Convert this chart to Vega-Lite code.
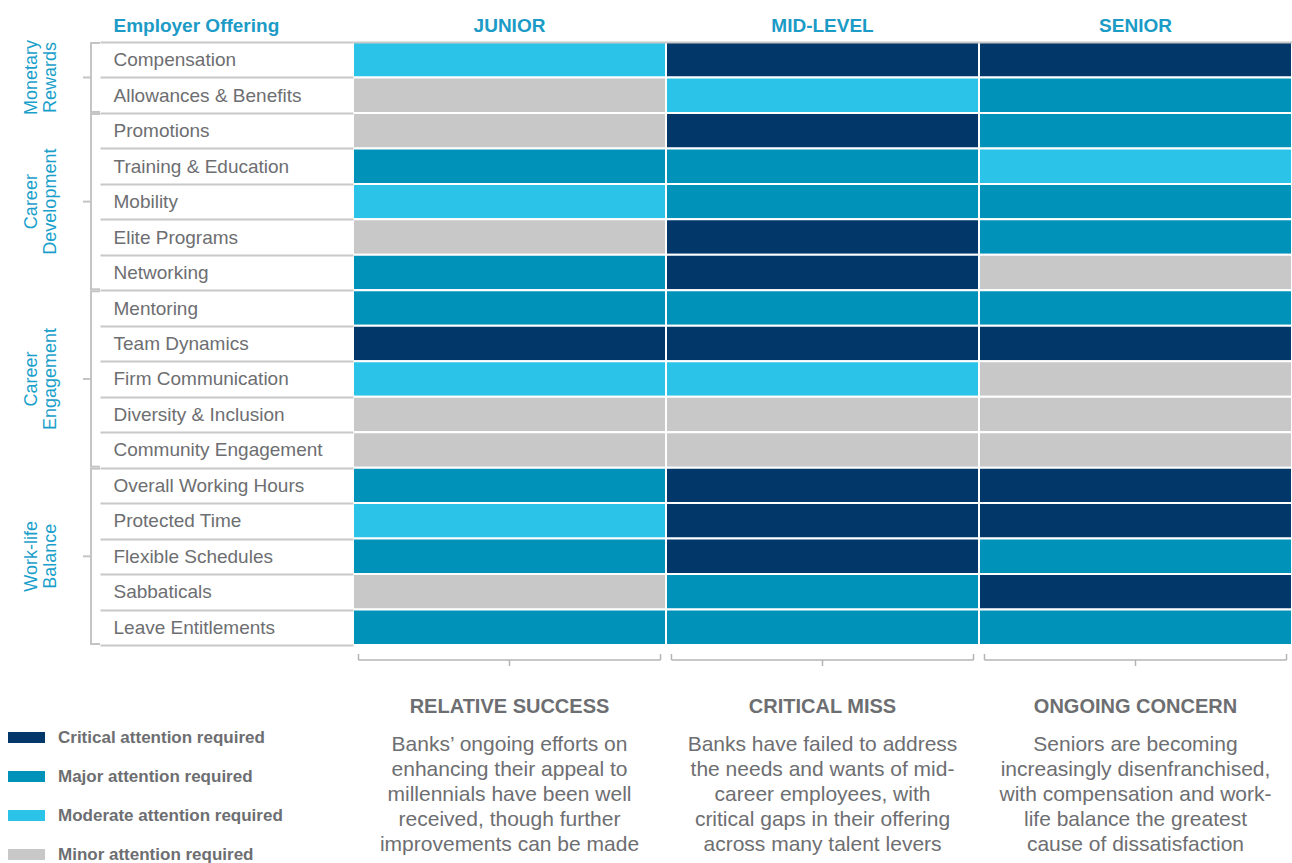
{
  "$schema": "https://vega.github.io/schema/vega-lite/v6.json",
  "padding": {"top": 16, "left": 0, "right": 0, "bottom": 0},
  "config": {"font": "Liberation Sans", "view": {"stroke": null}},
  "bounds": "flush",
  "spacing": 253,
  "datasets": {
    "cells": [
      {"offering": "Compensation", "level": "JUNIOR", "attention": "Moderate attention required"},
      {"offering": "Compensation", "level": "MID-LEVEL", "attention": "Critical attention required"},
      {"offering": "Compensation", "level": "SENIOR", "attention": "Critical attention required"},
      {"offering": "Allowances & Benefits", "level": "JUNIOR", "attention": "Minor attention required"},
      {"offering": "Allowances & Benefits", "level": "MID-LEVEL", "attention": "Moderate attention required"},
      {"offering": "Allowances & Benefits", "level": "SENIOR", "attention": "Major attention required"},
      {"offering": "Promotions", "level": "JUNIOR", "attention": "Minor attention required"},
      {"offering": "Promotions", "level": "MID-LEVEL", "attention": "Critical attention required"},
      {"offering": "Promotions", "level": "SENIOR", "attention": "Major attention required"},
      {"offering": "Training & Education", "level": "JUNIOR", "attention": "Major attention required"},
      {"offering": "Training & Education", "level": "MID-LEVEL", "attention": "Major attention required"},
      {"offering": "Training & Education", "level": "SENIOR", "attention": "Moderate attention required"},
      {"offering": "Mobility", "level": "JUNIOR", "attention": "Moderate attention required"},
      {"offering": "Mobility", "level": "MID-LEVEL", "attention": "Major attention required"},
      {"offering": "Mobility", "level": "SENIOR", "attention": "Major attention required"},
      {"offering": "Elite Programs", "level": "JUNIOR", "attention": "Minor attention required"},
      {"offering": "Elite Programs", "level": "MID-LEVEL", "attention": "Critical attention required"},
      {"offering": "Elite Programs", "level": "SENIOR", "attention": "Major attention required"},
      {"offering": "Networking", "level": "JUNIOR", "attention": "Major attention required"},
      {"offering": "Networking", "level": "MID-LEVEL", "attention": "Critical attention required"},
      {"offering": "Networking", "level": "SENIOR", "attention": "Minor attention required"},
      {"offering": "Mentoring", "level": "JUNIOR", "attention": "Major attention required"},
      {"offering": "Mentoring", "level": "MID-LEVEL", "attention": "Major attention required"},
      {"offering": "Mentoring", "level": "SENIOR", "attention": "Major attention required"},
      {"offering": "Team Dynamics", "level": "JUNIOR", "attention": "Critical attention required"},
      {"offering": "Team Dynamics", "level": "MID-LEVEL", "attention": "Critical attention required"},
      {"offering": "Team Dynamics", "level": "SENIOR", "attention": "Critical attention required"},
      {"offering": "Firm Communication", "level": "JUNIOR", "attention": "Moderate attention required"},
      {"offering": "Firm Communication", "level": "MID-LEVEL", "attention": "Moderate attention required"},
      {"offering": "Firm Communication", "level": "SENIOR", "attention": "Minor attention required"},
      {"offering": "Diversity & Inclusion", "level": "JUNIOR", "attention": "Minor attention required"},
      {"offering": "Diversity & Inclusion", "level": "MID-LEVEL", "attention": "Minor attention required"},
      {"offering": "Diversity & Inclusion", "level": "SENIOR", "attention": "Minor attention required"},
      {"offering": "Community Engagement", "level": "JUNIOR", "attention": "Minor attention required"},
      {"offering": "Community Engagement", "level": "MID-LEVEL", "attention": "Minor attention required"},
      {"offering": "Community Engagement", "level": "SENIOR", "attention": "Minor attention required"},
      {"offering": "Overall Working Hours", "level": "JUNIOR", "attention": "Major attention required"},
      {"offering": "Overall Working Hours", "level": "MID-LEVEL", "attention": "Critical attention required"},
      {"offering": "Overall Working Hours", "level": "SENIOR", "attention": "Critical attention required"},
      {"offering": "Protected Time", "level": "JUNIOR", "attention": "Moderate attention required"},
      {"offering": "Protected Time", "level": "MID-LEVEL", "attention": "Critical attention required"},
      {"offering": "Protected Time", "level": "SENIOR", "attention": "Critical attention required"},
      {"offering": "Flexible Schedules", "level": "JUNIOR", "attention": "Major attention required"},
      {"offering": "Flexible Schedules", "level": "MID-LEVEL", "attention": "Critical attention required"},
      {"offering": "Flexible Schedules", "level": "SENIOR", "attention": "Major attention required"},
      {"offering": "Sabbaticals", "level": "JUNIOR", "attention": "Minor attention required"},
      {"offering": "Sabbaticals", "level": "MID-LEVEL", "attention": "Major attention required"},
      {"offering": "Sabbaticals", "level": "SENIOR", "attention": "Critical attention required"},
      {"offering": "Leave Entitlements", "level": "JUNIOR", "attention": "Major attention required"},
      {"offering": "Leave Entitlements", "level": "MID-LEVEL", "attention": "Major attention required"},
      {"offering": "Leave Entitlements", "level": "SENIOR", "attention": "Major attention required"}
    ],
    "groups": [
      {"group": "Monetary\nRewards", "start": 0, "end": 2},
      {"group": "Career\nDevelopment", "start": 2, "end": 7},
      {"group": "Career\nEngagement", "start": 7, "end": 12},
      {"group": "Work-life\nBalance", "start": 12, "end": 17}
    ],
    "notes": [
      {"level": "JUNIOR", "title": "RELATIVE SUCCESS", "body": "Banks’ ongoing efforts on\nenhancing their appeal to\nmillennials have been well\nreceived, though further\nimprovements can be made"},
      {"level": "MID-LEVEL", "title": "CRITICAL MISS", "body": "Banks have failed to address\nthe needs and wants of mid-\ncareer employees, with\ncritical gaps in their offering\nacross many talent levers"},
      {"level": "SENIOR", "title": "ONGOING CONCERN", "body": "Seniors are becoming\nincreasingly disenfranchised,\nwith compensation and work-\nlife balance the greatest\ncause of dissatisfaction"}
    ]
  },
  "hconcat": [
    {
      "width": 100,
      "height": 603,
      "data": {"name": "groups"},
      "layer": [
        {
          "mark": {"type": "rule", "color": "#c4c4c4", "strokeWidth": 2, "yOffset": 1, "y2Offset": -1},
          "encoding": {
            "x": {"datum": 91, "type": "quantitative", "scale": {"domain": [0, 100], "nice": false}, "axis": null},
            "y": {"field": "start", "type": "quantitative", "scale": {"domain": [0, 17], "reverse": true, "nice": false, "zero": false}, "axis": null},
            "y2": {"field": "end"}
          }
        },
        {
          "mark": {"type": "rule", "color": "#c4c4c4", "strokeWidth": 2, "yOffset": 1},
          "encoding": {
            "x": {"datum": 90, "type": "quantitative"},
            "x2": {"datum": 100},
            "y": {"field": "start", "type": "quantitative"}
          }
        },
        {
          "mark": {"type": "rule", "color": "#c4c4c4", "strokeWidth": 2, "yOffset": -1},
          "encoding": {
            "x": {"datum": 90, "type": "quantitative"},
            "x2": {"datum": 100},
            "y": {"field": "end", "type": "quantitative"}
          }
        },
        {
          "transform": [{"fold": ["start", "end"], "as": ["edge", "pos"]}],
          "mark": {"type": "rule", "color": "#c4c4c4", "strokeWidth": 2},
          "encoding": {
            "x": {"datum": 83, "type": "quantitative"},
            "x2": {"datum": 91},
            "y": {"aggregate": "mean", "field": "pos", "type": "quantitative"},
            "detail": {"field": "group", "type": "nominal"}
          }
        },
        {
          "transform": [{"fold": ["start", "end"], "as": ["edge", "pos"]}],
          "mark": {"type": "text", "angle": 270, "align": "center", "baseline": "middle", "lineBreak": "\n", "lineHeight": 19, "fontSize": 18, "color": "#1a9fcb"},
          "encoding": {
            "x": {"datum": 32, "type": "quantitative"},
            "y": {"aggregate": "mean", "field": "pos", "type": "quantitative"},
            "text": {"field": "group", "type": "nominal"}
          }
        }
      ]
    },
    {
      "bounds": "flush",
      "spacing": 8,
      "vconcat": [
        {
          "width": 939,
          "height": 603,
          "data": {"name": "cells"},
          "mark": {"type": "rect", "stroke": "white", "strokeWidth": 2},
          "encoding": {
            "x": {
              "field": "level", "type": "nominal", "sort": ["JUNIOR", "MID-LEVEL", "SENIOR"],
              "scale": {"paddingInner": 0, "paddingOuter": 0},
              "axis": {"orient": "top", "title": null, "labelAngle": 0, "labelFontSize": 19, "labelFontWeight": "bold", "labelColor": "#1b9bc6", "labelPadding": 11, "labelBaseline": "alphabetic", "ticks": false, "domainColor": "#c8c8c8", "domainWidth": 2}
            },
            "y": {
              "field": "offering", "type": "nominal",
              "sort": ["Compensation", "Allowances & Benefits", "Promotions", "Training & Education", "Mobility", "Elite Programs", "Networking", "Mentoring", "Team Dynamics", "Firm Communication", "Diversity & Inclusion", "Community Engagement", "Overall Working Hours", "Protected Time", "Flexible Schedules", "Sabbaticals", "Leave Entitlements"],
              "scale": {"paddingInner": 0, "paddingOuter": 0},
              "axis": {"title": "Employer Offering", "titleAngle": 0, "titleAlign": "left", "titleBaseline": "alphabetic", "titleX": -240, "titleY": -11, "titleFontSize": 19, "titleFontWeight": "bold", "titleColor": "#1b9bc6", "labelAlign": "left", "labelBaseline": "middle", "labelPadding": -13, "labelFontSize": 19, "labelColor": "#6d6e71", "labelLimit": 260, "tickBand": "extent", "tickSize": 253, "tickColor": "#c8c8c8", "tickWidth": 2, "domain": false, "minExtent": 253, "maxExtent": 253}
            },
            "color": {
              "field": "attention", "type": "nominal",
              "scale": {"domain": ["Critical attention required", "Major attention required", "Moderate attention required", "Minor attention required"], "range": ["#02376a", "#0092b9", "#2cc3e9", "#c8c8c8"]},
              "legend": {"title": null, "orient": "none", "direction": "vertical", "legendX": 8, "legendY": 677, "padding": 0, "symbolType": "M-1,-0.3H1V0.3H-1Z", "symbolSize": 1369, "symbolStrokeWidth": 0, "labelFontSize": 17, "labelFontWeight": "bold", "labelColor": "#6d6e71", "labelOffset": 13, "labelLimit": 300, "rowPadding": 12}
            }
          }
        },
        {
          "width": 939,
          "height": 210,
          "data": {"name": "notes"},
          "layer": [
            {
              "mark": {"type": "rule", "color": "#b4b4b4", "strokeWidth": 1.5},
              "encoding": {
                "x": {"field": "level", "type": "nominal", "sort": ["JUNIOR", "MID-LEVEL", "SENIOR"], "bandPosition": 0, "scale": {"paddingInner": 0.035, "paddingOuter": 0.0175}, "axis": null},
                "x2": {"field": "level", "bandPosition": 1},
                "y": {"datum": 7, "type": "quantitative", "scale": {"domain": [0, 210], "reverse": true, "nice": false, "zero": false}, "axis": null}
              }
            },
            {
              "mark": {"type": "rule", "color": "#b4b4b4", "strokeWidth": 1.5},
              "encoding": {
                "x": {"field": "level", "type": "nominal", "sort": ["JUNIOR", "MID-LEVEL", "SENIOR"], "bandPosition": 0},
                "y": {"datum": 1, "type": "quantitative"},
                "y2": {"datum": 7}
              }
            },
            {
              "mark": {"type": "rule", "color": "#b4b4b4", "strokeWidth": 1.5},
              "encoding": {
                "x": {"field": "level", "type": "nominal", "sort": ["JUNIOR", "MID-LEVEL", "SENIOR"], "bandPosition": 1},
                "y": {"datum": 1, "type": "quantitative"},
                "y2": {"datum": 7}
              }
            },
            {
              "mark": {"type": "rule", "color": "#b4b4b4", "strokeWidth": 1.5},
              "encoding": {
                "x": {"field": "level", "type": "nominal", "sort": ["JUNIOR", "MID-LEVEL", "SENIOR"], "bandPosition": 0.5},
                "y": {"datum": 7, "type": "quantitative"},
                "y2": {"datum": 13}
              }
            },
            {
              "mark": {"type": "text", "align": "center", "baseline": "alphabetic", "fontSize": 20, "fontWeight": "bold", "color": "#6d6e71"},
              "encoding": {
                "x": {"field": "level", "type": "nominal", "sort": ["JUNIOR", "MID-LEVEL", "SENIOR"], "bandPosition": 0.5},
                "y": {"datum": 60, "type": "quantitative"},
                "text": {"field": "title", "type": "nominal"}
              }
            },
            {
              "mark": {"type": "text", "align": "center", "baseline": "alphabetic", "fontSize": 21, "lineBreak": "\n", "lineHeight": 25, "color": "#6d6e71"},
              "encoding": {
                "x": {"field": "level", "type": "nominal", "sort": ["JUNIOR", "MID-LEVEL", "SENIOR"], "bandPosition": 0.5},
                "y": {"datum": 97.5, "type": "quantitative"},
                "text": {"field": "body", "type": "nominal"}
              }
            }
          ]
        }
      ]
    }
  ]
}
